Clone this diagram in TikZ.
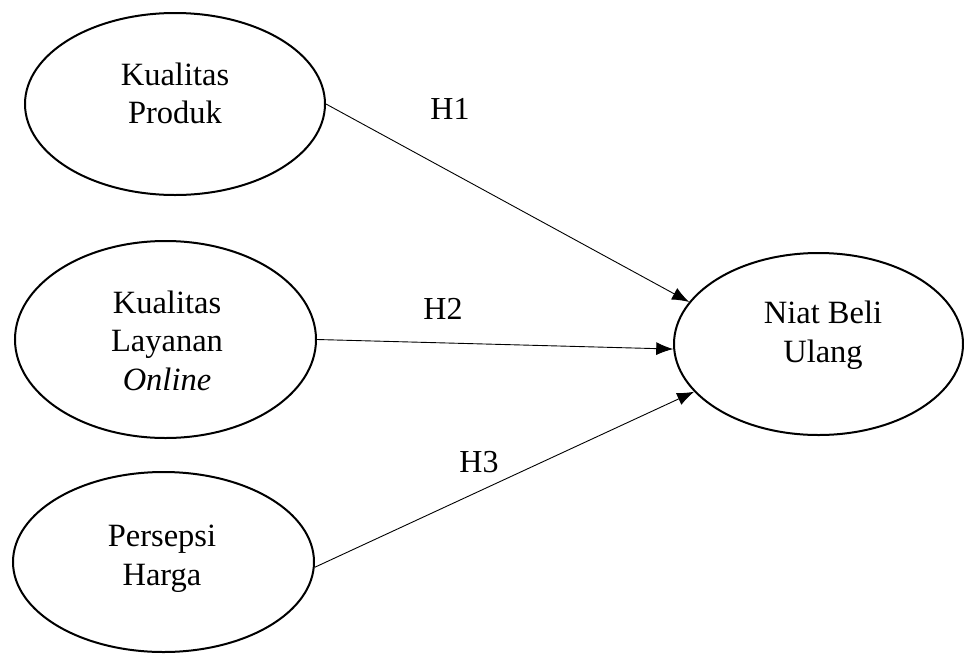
\documentclass[tikz,border=0pt]{standalone}
\usepackage{fontspec}
\setmainfont{Liberation Serif}
\usetikzlibrary{shapes.geometric,arrows.meta}
\begin{document}
\begin{tikzpicture}[x=1pt,y=-1pt,
  construct/.style={draw,line width=2pt,fill=white,ellipse,inner sep=0pt},
  lbl/.style={font=\fontsize{32.5}{38.5}\selectfont,align=center,inner sep=0pt,anchor=base},
  hyp/.style={font=\fontsize{32}{38.5}\selectfont,inner sep=0pt,anchor=base},
  path/.style={line width=0.9pt,-{Latex[length=17pt,width=13pt]}}]
\useasboundingbox (0,0) rectangle (964,654);
\node[construct,minimum width=300pt,minimum height=182pt] (kp) at (175,104) {};
\node[construct,minimum width=301pt,minimum height=197pt] (kl) at (165.5,339.5) {};
\node[construct,minimum width=301pt,minimum height=180pt] (ph) at (163.5,562) {};
\node[construct,minimum width=289pt,minimum height=182pt] (nb) at (818.5,344) {};
\node[lbl] (tkp) at (175,123.5) {Kualitas\\Produk};
\node[lbl] (tkl) at (167,390) {Kualitas\\Layanan\\\textit{Online}};
\node[lbl] (tph) at (162,585) {Persepsi\\Harga};
\node[lbl] (tnb) at (823,362) {Niat Beli\\Ulang};
\draw[path] (kp.east) -- (nb.162);
\draw[path] (kl.east) -- (nb.182);
\draw[path] (ph.-2) -- (nb.201);
\node[hyp] (h1) at (450,119) {H1};
\node[hyp] (h2) at (443,319) {H2};
\node[hyp] (h3) at (479,472) {H3};
\end{tikzpicture}
\end{document}
